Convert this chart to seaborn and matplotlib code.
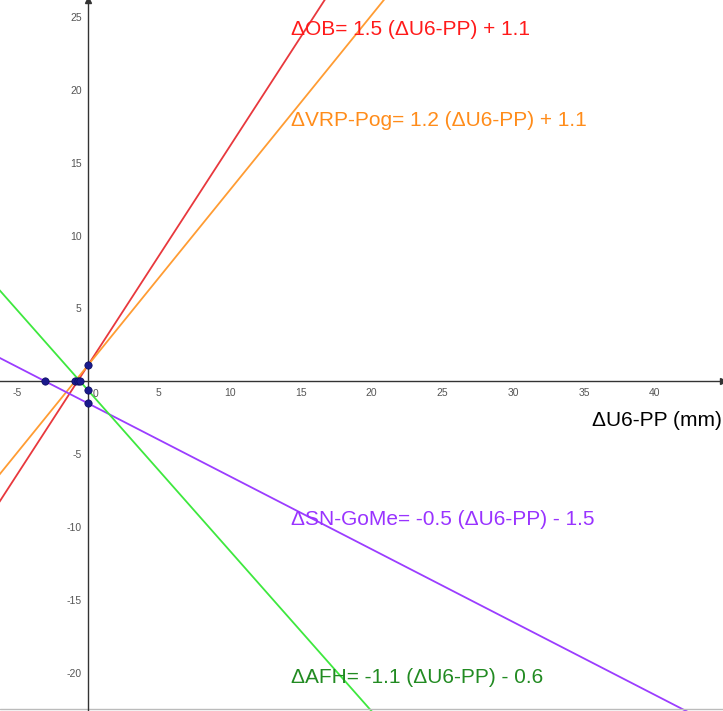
import matplotlib
matplotlib.use("Agg")
import matplotlib.pyplot as plt
import seaborn as sns
import numpy as np
import pandas as pd

# regression lines: slope / intercept
names = ["ΔOB", "ΔVRP-Pog", "ΔSN-GoMe", "ΔAFH"]
slopes = [1.5, 1.2, -0.5, -1.1]
intercepts = [1.1, 1.1, -1.5, -0.6]
line_colors = ["#e8383d", "#ff9c33", "#9b3dff", "#3ee83e"]
label_colors = ["#ff1a1a", "#ff8c1a", "#9933ff", "#228b22"]
label_xy = [(14.3, 24.1), (14.3, 17.9), (14.3, -9.5), (14.3, -20.3)]

# marked points (intercepts)
pt_x = [0.0, 0.0, 0.0, -3.0, -0.92, -0.73, -0.55]
pt_y = [1.1, -0.6, -1.5, 0.0, 0.0, 0.0, 0.0]

x_ticks = [-5, 5, 10, 15, 20, 25, 30, 35, 40]
y_ticks = [-20, -15, -10, -5, 5, 10, 15, 20, 25]

xmin, xmax = -6.2, 44.8
ymin, ymax = -22.6, 26.15

sns.set_style("white")
plt.rcParams['font.family'] = ['Liberation Sans', 'DejaVu Sans']
plt.rcParams['axes.unicode_minus'] = False

fig = plt.figure(figsize=(7.23, 7.11), dpi=100)
ax = fig.add_axes([0, 0, 1, 1])

rows = []
for n, m, b in zip(names, slopes, intercepts):
    for xv in (xmin - 5, xmax + 5):
        rows.append({"name": n, "x": xv, "y": m * xv + b})
df = pd.DataFrame(rows)
sns.lineplot(data=df, x="x", y="y", hue="name", palette=dict(zip(names, line_colors)),
             linewidth=1.3, legend=False, ax=ax)

pts = pd.DataFrame({"x": pt_x, "y": pt_y})
sns.scatterplot(data=pts, x="x", y="y", color="#1a1a8c", s=28, edgecolor="#0a0a60",
                linewidth=0.5, zorder=5, ax=ax)

for n, m, b, c, (tx, ty) in zip(names, slopes, intercepts, label_colors, label_xy):
    sign = "+" if b >= 0 else "-"
    ax.text(tx, ty, f"{n}= {m} (ΔU6-PP) {sign} {abs(b)}", color=c, fontsize=15,
            va="center", ha="left")

ax.set_xlim(xmin, xmax)
ax.set_ylim(ymin, ymax)

for s in ["top", "right"]:
    ax.spines[s].set_visible(False)
ax.spines["left"].set_position(("data", 0))
ax.spines["bottom"].set_position(("data", 0))
for s in ["left", "bottom"]:
    ax.spines[s].set_color("#333333")
    ax.spines[s].set_linewidth(1.0)

ax.set_xticks(x_ticks)
ax.set_yticks(y_ticks)
ax.tick_params(axis="both", direction="inout", length=5, width=0.8, color="#333333",
               labelsize=7.5, labelcolor="#555555", pad=2)
ax.text(0.35, -0.5, "0", fontsize=7.5, color="#555555", va="top", ha="left")

ax.plot(0, ymax, marker="^", color="#333333", markersize=4, clip_on=False)
ax.plot(xmax, 0, marker=">", color="#333333", markersize=4, clip_on=False)

ax.set_xlabel("")
ax.set_ylabel("")
ax.text(xmax - 0.05, -2.7, "ΔU6-PP (mm)", fontsize=15, color="black", ha="right", va="center")

ax.axhline(ymin + 0.12, color="#bbbbbb", linewidth=1.0)

fig.savefig("out.png", dpi=100)
